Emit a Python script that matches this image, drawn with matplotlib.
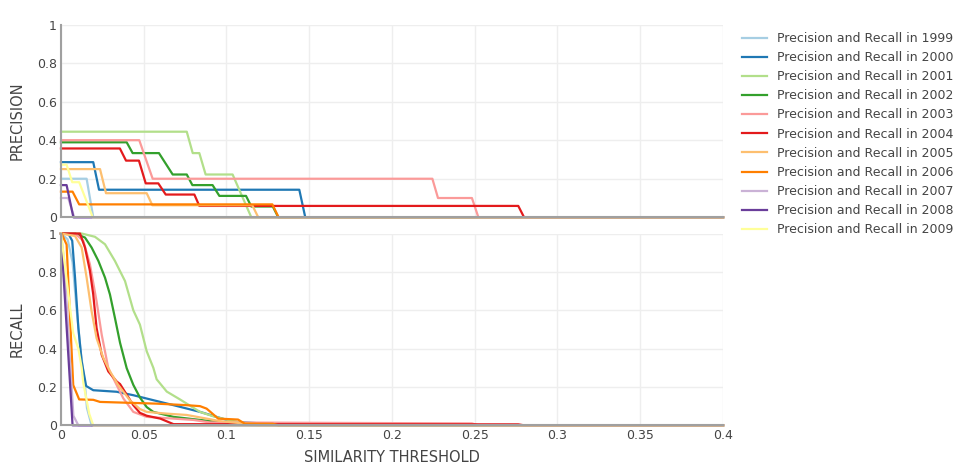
import matplotlib
matplotlib.use("Agg")
import matplotlib.pyplot as plt

# data
years = [1999, 2000, 2001, 2002, 2003, 2004, 2005, 2006, 2007, 2008, 2009]
colors = ['#a6cee3', '#1f78b4', '#b2df8a', '#33a02c', '#fb9a99', '#e31a1c',
          '#fdbf6f', '#ff7f00', '#cab2d6', '#6a3d9a', '#ffff99']

x_ticks = [0, 0.05, 0.1, 0.15, 0.2, 0.25, 0.3, 0.35, 0.4]
x_tick_labels = ['0', '0.05', '0.1', '0.15', '0.2', '0.25', '0.3', '0.35', '0.4']
y_ticks = [0, 0.2, 0.4, 0.6, 0.8, 1]
y_tick_labels = ['0', '0.2', '0.4', '0.6', '0.8', '1']

# precision (top panel)
thr_p_1999 = [0, 0.0155, 0.0195, 0.4]
prec_1999 = [0.2, 0.2, 0, 0]
thr_p_2000 = [0, 0.0195, 0.023, 0.144, 0.1476, 0.4]
prec_2000 = [0.286, 0.286, 0.143, 0.143, 0, 0]
thr_p_2001 = [0, 0.076, 0.0796, 0.0836, 0.0874, 0.1037, 0.115, 0.4]
prec_2001 = [0.444, 0.444, 0.333, 0.333, 0.222, 0.222, 0, 0]
thr_p_2002 = [0, 0.0397, 0.0433, 0.0592, 0.0675, 0.076, 0.0794, 0.0916, 0.0957,
              0.1118, 0.115, 0.128, 0.1313, 0.4]
prec_2002 = [0.389, 0.389, 0.333, 0.333, 0.222, 0.222, 0.167, 0.167, 0.111,
             0.111, 0.056, 0.056, 0, 0]
thr_p_2003 = [0, 0.0473, 0.0554, 0.2244, 0.2278, 0.2483, 0.2522, 0.4]
prec_2003 = [0.4, 0.4, 0.2, 0.2, 0.1, 0.1, 0, 0]
thr_p_2004 = [0, 0.0356, 0.0393, 0.0471, 0.0512, 0.0588, 0.0633, 0.0806, 0.0836,
              0.2763, 0.2798, 0.4]
prec_2004 = [0.357, 0.357, 0.294, 0.294, 0.176, 0.176, 0.118, 0.118, 0.059,
             0.059, 0, 0]
thr_p_2005 = [0, 0.0236, 0.0272, 0.0518, 0.0552, 0.1156, 0.1192, 0.4]
prec_2005 = [0.25, 0.25, 0.125, 0.125, 0.0625, 0.0625, 0, 0]
thr_p_2006 = [0, 0.007, 0.011, 0.1277, 0.1315, 0.4]
prec_2006 = [0.133, 0.133, 0.067, 0.067, 0, 0]
thr_p_2007 = [0, 0.0044, 0.008, 0.4]
prec_2007 = [0.1, 0.1, 0, 0]
thr_p_2008 = [0, 0.0034, 0.0075, 0.4]
prec_2008 = [0.167, 0.167, 0, 0]
thr_p_2009 = [0, 0.0034, 0.0068, 0.011, 0.0192, 0.4]
prec_2009 = [0.273, 0.273, 0.182, 0.182, 0, 0]

# recall (bottom panel)
thr_r_1999 = [0, 0.004, 0.007, 0.0095, 0.012, 0.0145, 0.0157, 0.0185, 0.4]
rec_1999 = [1, 0.97, 0.85, 0.6, 0.38, 0.21, 0.09, 0, 0]
thr_r_2000 = [0, 0.0044, 0.0068, 0.0085, 0.0105, 0.0125, 0.0152, 0.0195, 0.0336,
              0.0437, 0.0558, 0.068, 0.084, 0.094, 0.104, 0.128, 0.144, 0.1476, 0.4]
rec_2000 = [1, 1, 0.962, 0.77, 0.508, 0.333, 0.205, 0.183, 0.175, 0.157, 0.131,
            0.105, 0.07, 0.044, 0.018, 0.007, 0.007, 0, 0]
thr_r_2001 = [0, 0.0125, 0.0205, 0.0266, 0.0326, 0.0387, 0.0437, 0.0477, 0.0518,
              0.0558, 0.0578, 0.0639, 0.0719, 0.076, 0.084, 0.092, 0.1, 0.108,
              0.1118, 0.115, 0.4]
rec_2001 = [1, 1, 0.983, 0.944, 0.857, 0.752, 0.6, 0.525, 0.386, 0.3, 0.24,
            0.176, 0.135, 0.113, 0.07, 0.047, 0.03, 0.015, 0.01, 0, 0]
thr_r_2002 = [0, 0.0085, 0.0145, 0.0185, 0.0226, 0.0266, 0.0296, 0.0326, 0.0357,
              0.0397, 0.0437, 0.0477, 0.0518, 0.0558, 0.068, 0.084, 0.1, 0.128,
              0.1313, 0.4]
rec_2002 = [1, 1, 0.979, 0.927, 0.857, 0.77, 0.682, 0.56, 0.43, 0.298, 0.211,
            0.145, 0.095, 0.07, 0.044, 0.028, 0.012, 0.005, 0, 0]
thr_r_2003 = [0, 0.0085, 0.0135, 0.0175, 0.0215, 0.0246, 0.0286, 0.0336, 0.0377,
              0.0437, 0.0518, 0.068, 0.08, 0.09, 0.2483, 0.2522, 0.4]
rec_2003 = [1, 1, 0.962, 0.839, 0.647, 0.473, 0.298, 0.211, 0.14, 0.07, 0.044,
            0.035, 0.028, 0.015, 0.01, 0, 0]
thr_r_2004 = [0, 0.0115, 0.0145, 0.0175, 0.0195, 0.0215, 0.0246, 0.0286, 0.0336,
              0.0357, 0.0397, 0.0437, 0.0477, 0.0518, 0.06, 0.068, 0.2763,
              0.2798, 0.4]
rec_2004 = [1, 1, 0.927, 0.805, 0.682, 0.508, 0.368, 0.281, 0.229, 0.215, 0.16,
            0.105, 0.065, 0.05, 0.035, 0.006, 0.005, 0, 0]
thr_r_2005 = [0, 0.0085, 0.0125, 0.0155, 0.0185, 0.0215, 0.0256, 0.0296, 0.0346,
              0.0417, 0.0477, 0.0518, 0.0639, 0.076, 0.088, 0.096, 0.11, 0.1156,
              0.1192, 0.4]
rec_2005 = [1, 0.987, 0.927, 0.77, 0.595, 0.455, 0.351, 0.281, 0.21, 0.13, 0.085,
            0.07, 0.061, 0.054, 0.035, 0.022, 0.01, 0.008, 0, 0]
thr_r_2006 = [0, 0.0004, 0.0034, 0.0074, 0.011, 0.0195, 0.0236, 0.0578, 0.076,
              0.084, 0.088, 0.095, 0.107, 0.111, 0.128, 0.1315, 0.4]
rec_2006 = [1, 1, 0.942, 0.21, 0.135, 0.133, 0.122, 0.113, 0.105, 0.1, 0.087,
            0.035, 0.03, 0.009, 0.008, 0, 0]
thr_r_2007 = [0, 0.002, 0.005, 0.0075, 0.0105, 0.4]
rec_2007 = [1, 0.85, 0.4, 0.05, 0, 0]
thr_r_2008 = [0, 0.007, 0.4]
rec_2008 = [1, 0, 0]
thr_r_2009 = [0, 0.0074, 0.0105, 0.0125, 0.0135, 0.0171, 0.0195, 0.4]
rec_2009 = [1, 0.48, 0.4, 0.3, 0.22, 0.06, 0, 0]

precision = [(thr_p_1999, prec_1999), (thr_p_2000, prec_2000), (thr_p_2001, prec_2001),
             (thr_p_2002, prec_2002), (thr_p_2003, prec_2003), (thr_p_2004, prec_2004),
             (thr_p_2005, prec_2005), (thr_p_2006, prec_2006), (thr_p_2007, prec_2007),
             (thr_p_2008, prec_2008), (thr_p_2009, prec_2009)]
recall = [(thr_r_1999, rec_1999), (thr_r_2000, rec_2000), (thr_r_2001, rec_2001),
          (thr_r_2002, rec_2002), (thr_r_2003, rec_2003), (thr_r_2004, rec_2004),
          (thr_r_2005, rec_2005), (thr_r_2006, rec_2006), (thr_r_2007, rec_2007),
          (thr_r_2008, rec_2008), (thr_r_2009, rec_2009)]

plt.rcParams['font.family'] = ['DejaVu Sans']
text_color = '#444444'

fig = plt.figure(figsize=(9.74, 4.66), dpi=100)
# top = precision, bottom = recall
ax_p = fig.add_axes([0.0626, 0.5337, 0.6797, 0.4137])
ax_r = fig.add_axes([0.0626, 0.0873, 0.6797, 0.4116])

for ax in (ax_p, ax_r):
    ax.set_xlim(0, 0.4)
    ax.set_ylim(0, 1)
    ax.set_xticks(x_ticks)
    ax.set_yticks(y_ticks)
    ax.set_yticklabels(y_tick_labels)
    ax.grid(True, color='#eeeeee', lw=1)
    ax.set_axisbelow(True)
    for s in ('top', 'right'):
        ax.spines[s].set_visible(False)
    for s in ('left', 'bottom'):
        ax.spines[s].set_color('#a0a0a0')
        ax.spines[s].set_linewidth(1.5)
    ax.tick_params(length=0, pad=3, labelsize=9, colors=text_color)

ax_p.set_xticklabels([])
ax_r.set_xticklabels(x_tick_labels)

for i, yr in enumerate(years):
    xs, ys = precision[i]
    ax_p.plot(xs, ys, color=colors[i], lw=1.6, clip_on=False,
              label='Precision and Recall in %d' % yr)
    xs, ys = recall[i]
    ax_r.plot(xs, ys, color=colors[i], lw=1.6, clip_on=False)

fig.text(17 / 974, 0.740, 'PRECISION', rotation=90, ha='center', va='center',
         fontsize=10.5, color=text_color)
fig.text(17 / 974, 0.2931, 'RECALL', rotation=90, ha='center', va='center',
         fontsize=10.5, color=text_color)
fig.text(392 / 974, 1 - 457 / 466, 'SIMILARITY THRESHOLD', ha='center', va='center',
         fontsize=10.5, color=text_color)

handles, labels = ax_p.get_legend_handles_labels()
leg = fig.legend(handles, labels, loc='upper left', bbox_to_anchor=(742 / 974, 1 - 32 / 466),
                 frameon=False, fontsize=9, handlelength=2.0, handletextpad=0.8,
                 labelspacing=0.49, borderpad=0, borderaxespad=0)
for t in leg.get_texts():
    t.set_color(text_color)

fig.savefig('out.png', dpi=100)
